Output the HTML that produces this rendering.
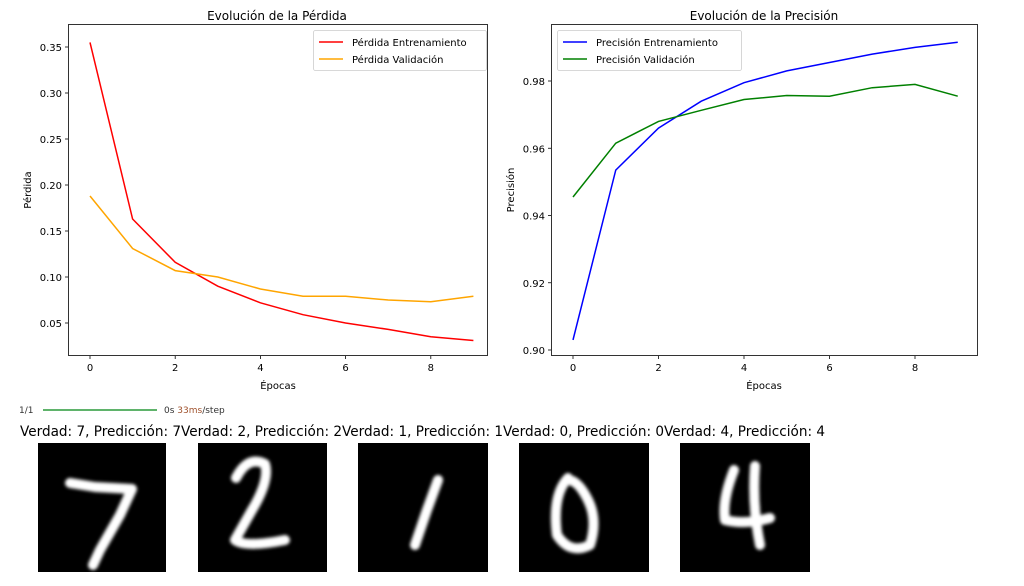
<!DOCTYPE html><html><head><style>body{margin:0;background:#fff}svg text{font-family:"DejaVu Sans","Liberation Sans",sans-serif}</style></head><body>
<svg width="1024" height="581" viewBox="0 0 1024 581" xmlns="http://www.w3.org/2000/svg">
<defs><filter id="b"><feGaussianBlur stdDeviation="1.6"/></filter></defs>
<g font-size="10" fill="#000">
<text x="277" y="20" font-size="12" text-anchor="middle">Evolución de la Pérdida</text>
<rect x="68.5" y="24.5" width="419" height="331" fill="none" stroke="#000" stroke-width="0.8"/>
<g stroke="#000" stroke-width="0.8">
<line x1="65" x2="68" y1="323" y2="323"/><line x1="65" x2="68" y1="277" y2="277"/><line x1="65" x2="68" y1="231" y2="231"/><line x1="65" x2="68" y1="185" y2="185"/><line x1="65" x2="68" y1="139" y2="139"/><line x1="65" x2="68" y1="93" y2="93"/><line x1="65" x2="68" y1="47" y2="47"/>
<line x1="90" x2="90" y1="356" y2="359"/><line x1="175.2" x2="175.2" y1="356" y2="359"/><line x1="260.4" x2="260.4" y1="356" y2="359"/><line x1="345.6" x2="345.6" y1="356" y2="359"/><line x1="430.8" x2="430.8" y1="356" y2="359"/>
</g>
<g text-anchor="end"><text x="62" y="327">0.05</text><text x="62" y="281">0.10</text><text x="62" y="235">0.15</text><text x="62" y="189">0.20</text><text x="62" y="143">0.25</text><text x="62" y="97">0.30</text><text x="62" y="51">0.35</text></g>
<g text-anchor="middle"><text x="90" y="371">0</text><text x="175.2" y="371">2</text><text x="260.4" y="371">4</text><text x="345.6" y="371">6</text><text x="430.8" y="371">8</text>
<text x="278" y="389">Épocas</text></g>
<text transform="translate(31,190) rotate(-90)" text-anchor="middle">Pérdida</text>
<polyline fill="none" stroke="#ff0000" stroke-width="1.5" points="90,42.4 132.6,219 175.2,262.3 217.8,286.2 260.4,302.8 303,314.7 345.6,323 388.2,329.4 430.8,336.8 473.4,340.5"/>
<polyline fill="none" stroke="#ffa500" stroke-width="1.5" points="90,196 132.6,248.5 175.2,270.6 217.8,277 260.4,289 303,296.3 345.6,296.3 388.2,300 430.8,301.8 473.4,296.3"/>
<rect x="313.5" y="30.5" width="173" height="40" rx="2" fill="#fff" stroke="#ccc" stroke-width="0.8"/>
<line x1="319" x2="343" y1="42" y2="42" stroke="#ff0000" stroke-width="1.5"/><text x="352" y="46">Pérdida Entrenamiento</text>
<line x1="319" x2="343" y1="59" y2="59" stroke="#ffa500" stroke-width="1.5"/><text x="352" y="63">Pérdida Validación</text>
<text x="764" y="20" font-size="12" text-anchor="middle">Evolución de la Precisión</text>
<rect x="551.5" y="24.5" width="426" height="331" fill="none" stroke="#000" stroke-width="0.8"/>
<g stroke="#000" stroke-width="0.8">
<line x1="548" x2="551" y1="350" y2="350"/><line x1="548" x2="551" y1="282.75" y2="282.75"/><line x1="548" x2="551" y1="215.5" y2="215.5"/><line x1="548" x2="551" y1="148.25" y2="148.25"/><line x1="548" x2="551" y1="81" y2="81"/>
<line x1="573" x2="573" y1="356" y2="359"/><line x1="658.5" x2="658.5" y1="356" y2="359"/><line x1="744" x2="744" y1="356" y2="359"/><line x1="829.5" x2="829.5" y1="356" y2="359"/><line x1="915" x2="915" y1="356" y2="359"/>
</g>
<g text-anchor="end"><text x="545" y="354">0.90</text><text x="545" y="286.75">0.92</text><text x="545" y="219.5">0.94</text><text x="545" y="152.25">0.96</text><text x="545" y="85">0.98</text></g>
<g text-anchor="middle"><text x="573" y="371">0</text><text x="658.5" y="371">2</text><text x="744" y="371">4</text><text x="829.5" y="371">6</text><text x="915" y="371">8</text>
<text x="764" y="389">Épocas</text></g>
<text transform="translate(514,190) rotate(-90)" text-anchor="middle">Precisión</text>
<polyline fill="none" stroke="#0000ff" stroke-width="1.5" points="573,339.9 615.75,170.1 658.5,128.1 701.25,101.2 744,82.7 786.75,70.9 829.5,62.5 872.25,54.1 915,47.4 957.75,42.3"/>
<polyline fill="none" stroke="#008000" stroke-width="1.5" points="573,197 615.75,143.2 658.5,121.4 701.25,110.3 744,99.5 786.75,95.5 829.5,96.2 872.25,87.7 915,84.4 957.75,96.2"/>
<rect x="557.5" y="30.5" width="184" height="40" rx="2" fill="#fff" stroke="#ccc" stroke-width="0.8"/>
<line x1="563" x2="587" y1="42" y2="42" stroke="#0000ff" stroke-width="1.5"/><text x="596" y="46">Precisión Entrenamiento</text>
<line x1="563" x2="587" y1="59" y2="59" stroke="#008000" stroke-width="1.5"/><text x="596" y="63">Precisión Validación</text>
</g>
<text x="19" y="413" font-size="9" font-family="Liberation Mono,monospace" fill="#333">1/1</text>
<line x1="43" x2="157" y1="410" y2="410" stroke="#2a9a3a" stroke-width="1.4"/>
<text x="164" y="413" font-size="9" font-family="Liberation Mono,monospace" fill="#333">0s <tspan fill="#a0522d">33ms</tspan>/step</text>
<text x="20" y="436" font-size="14" fill="#000" textLength="805" lengthAdjust="spacingAndGlyphs">Verdad: 7, Predicción: 7Verdad: 2, Predicción: 2Verdad: 1, Predicción: 1Verdad: 0, Predicción: 0Verdad: 4, Predicción: 4</text>
<rect x="38" y="443" width="128" height="129" fill="#000"/>
<rect x="198" y="443" width="129" height="129" fill="#000"/>
<rect x="358" y="443" width="130" height="129" fill="#000"/>
<rect x="519" y="443" width="130" height="129" fill="#000"/>
<rect x="680" y="443" width="130" height="129" fill="#000"/>
<g fill="none" stroke="#fff" stroke-linecap="round" stroke-linejoin="round" stroke-width="10" filter="url(#b)">
<path d="M70,483 L95,487 L132,489 L120,515 L100,550 L93,565"/>
<path d="M236,478 Q248,455 265,464 Q270,480 252,510 L235,540 Q245,548 285,540"/>
<path d="M438,480 L427,510 L415,545"/>
<path d="M568,478 Q552,495 557,535 Q570,555 590,545 Q598,520 588,500 Q578,480 568,480"/>
<path d="M734,470 Q722,500 725,520 Q745,525 770,518 M755,466 Q752,505 760,545"/>
</g>
</svg></body></html>
